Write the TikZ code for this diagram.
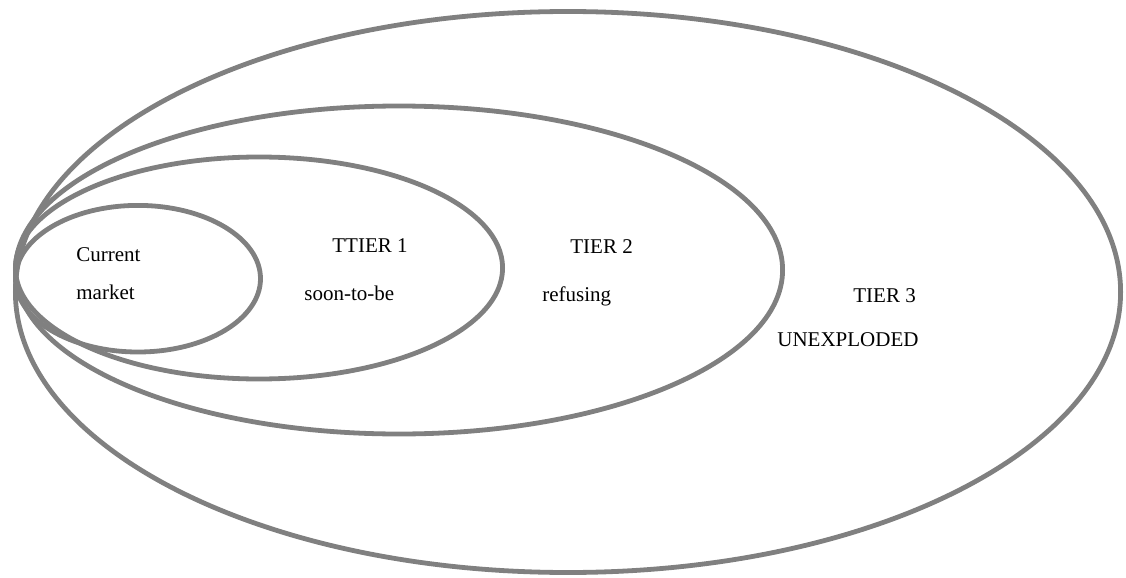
\documentclass[tikz,border=0pt]{standalone}
\usepackage{fontspec}
\setmainfont{Liberation Serif}
\usepackage{tikz}
\usetikzlibrary{positioning}
\definecolor{ringgray}{RGB}{128,128,128}
\tikzset{
  ring/.style={draw=ringgray,line width=2.4pt},
  lbl/.style={font=\fontsize{10.5}{12}\selectfont,text=black,
              inner sep=0pt,anchor=base west},
}

\begin{document}
\begin{tikzpicture}[x=0.5pt,y=-0.5pt]
  \useasboundingbox (0,0) rectangle (1126,578);
  % market rings, outermost first
  \draw[ring] (568,292)   ellipse [x radius=552.6,y radius=280.5];
  \draw[ring] (399,270)   ellipse [x radius=383.6,y radius=164];
  \draw[ring] (259,268)   ellipse [x radius=243.6,y radius=111];
  \draw[ring] (138,278.7) ellipse [x radius=122.5,y radius=73.3];

  \node[lbl] (cur)  at (76,261)  {Current};
  \node[lbl] (mkt)  at (76,299)  {market};
  \node[lbl] (t1)   at (332,252) {TTIER 1};
  \node[lbl] (t1s)  at (304,300) {soon-to-be};
  \node[lbl] (t2)   at (570,253) {TIER 2};
  \node[lbl] (t2s)  at (542,301) {refusing};
  \node[lbl] (t3)   at (853,302) {TIER 3};
  \node[lbl] (t3s)  at (777,346) {UNEXPLODED};
\end{tikzpicture}
\end{document}
